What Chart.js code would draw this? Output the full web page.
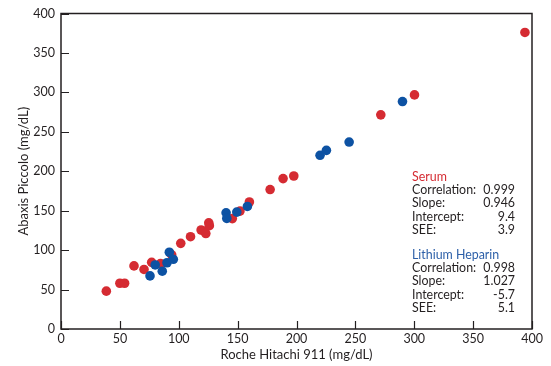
<!DOCTYPE html>
<html lang="en">
<head>
  <meta charset="UTF-8">
  <title>Abaxis Piccolo vs Roche Hitachi 911</title>
  <script src="https://cdn.jsdelivr.net/npm/chart.js"></script>
  <style>
    html, body { margin: 0; padding: 0; background: #fff; }
    #wrap { width: 551px; height: 366px; }
  </style>
</head>
<body>
  <div id="wrap"><canvas id="scatterChart"></canvas></div>

  <script>
  // Serum points (Roche Hitachi 911 x, Abaxis Piccolo y)
  const serumX = [38.5, 50, 54, 62, 70.5, 77, 84.5, 94, 101.7, 110, 119, 121.5, 123, 125.5, 126,
                  145.5, 152, 160, 177.6, 188.6, 197.7, 271.6, 300.2, 394];
  const serumY = [48, 58, 58, 80, 75.5, 84.5, 83, 94, 108.6, 117, 125.5, 124, 121, 134.5, 131,
                  140, 149.5, 161, 176.8, 190.7, 194, 271.5, 296.8, 376];

  // Lithium heparin points
  const heparinX = [75.6, 80, 86, 90, 92, 95.4, 140.2, 140.8, 149.3, 158.3, 220, 225.4, 244.7, 290];
  const heparinY = [67.3, 81.2, 73.3, 84, 97.3, 88.4, 147.3, 140.2, 148.2, 155.4, 220.2, 226.5, 237, 288.4];

  const axisTicks = [0, 50, 100, 150, 200, 250, 300, 350, 400];

  const statLabels = ["Correlation:", "Slope:", "Intercept:", "SEE:"];
  const serumStats = ["0.999", "0.946", "9.4", "3.9"];
  const heparinStats = ["0.998", "1.027", "-5.7", "5.1"];

  const RED = "#d52b32";
  const BLUE = "#0d52a3";
  const INK = "#231f20";
  const FONT = "Lato, sans-serif";

  const toPoints = (xs, ys) => xs.map((x, i) => ({ x: x, y: ys[i] }));

  // box around the plot + inward tick marks
  const framePlugin = {
    id: 'frame',
    afterDatasetsDraw(chart) {
      const { ctx, chartArea: a, scales } = chart;
      ctx.save();
      ctx.strokeStyle = INK;
      ctx.lineWidth = 1.5;
      ctx.strokeRect(a.left, a.top, a.right - a.left, a.bottom - a.top);
      ctx.lineWidth = 1.2;
      ctx.beginPath();
      axisTicks.forEach(v => {
        const px = Math.round(scales.x.getPixelForValue(v)) + 0.5;
        ctx.moveTo(px, a.bottom);
        ctx.lineTo(px, a.bottom - 8);
        const py = Math.round(scales.y.getPixelForValue(v)) + 0.5;
        ctx.moveTo(a.left, py);
        ctx.lineTo(a.left + 8, py);
      });
      ctx.stroke();
      ctx.restore();
    }
  };

  // regression statistics block
  const statsPlugin = {
    id: 'stats',
    afterDraw(chart) {
      const { ctx, chartArea: a } = chart;
      const left = a.right - 120;
      const right = a.right - 17;
      const lh = 13.4;
      const drawBlock = (title, color, values, top) => {
        ctx.fillStyle = color;
        ctx.textAlign = 'left';
        ctx.fillText(title, left, top);
        ctx.fillStyle = INK;
        statLabels.forEach((lab, i) => {
          const y = top + lh * (i + 1);
          ctx.textAlign = 'left';
          ctx.fillText(lab, left, y);
          ctx.textAlign = 'right';
          ctx.fillText(values[i], right, y);
        });
      };
      ctx.save();
      ctx.font = "12.4px " + FONT;
      ctx.textBaseline = 'middle';
      drawBlock("Serum", RED, serumStats, a.top + 163);
      drawBlock("Lithium Heparin", "#2c5fa8", heparinStats, a.top + 241);
      ctx.restore();
    }
  };

  new Chart(document.getElementById('scatterChart'), {
    type: 'scatter',
    data: {
      datasets: [
        {
          label: 'Lithium Heparin',
          data: toPoints(heparinX, heparinY),
          backgroundColor: BLUE,
          borderWidth: 0,
          pointRadius: 4.8,
          order: 0
        },
        {
          label: 'Serum',
          data: toPoints(serumX, serumY),
          backgroundColor: RED,
          borderWidth: 0,
          pointRadius: 4.8,
          order: 1
        }
      ]
    },
    options: {
      responsive: true,
      maintainAspectRatio: false,
      animation: false,
      layout: { padding: { top: 9, right: 19, left: 16, bottom: 3 } },
      plugins: {
        legend: { display: false },
        tooltip: { enabled: false }
      },
      scales: {
        x: {
          type: 'linear',
          min: 0,
          max: 400,
          afterBuildTicks: s => { s.ticks = axisTicks.map(v => ({ value: v })); },
          afterFit: s => { s.height = 34; },
          grid: { display: false, drawTicks: false },
          border: { display: false },
          ticks: { color: INK, font: { family: FONT, size: 12.5 }, padding: 2, maxRotation: 0 },
          title: {
            display: true,
            text: 'Roche Hitachi 911 (mg/dL)',
            color: INK,
            font: { family: FONT, size: 13 },
            padding: { top: 0, bottom: 0 }
          }
        },
        y: {
          type: 'linear',
          min: 0,
          max: 400,
          afterBuildTicks: s => { s.ticks = axisTicks.map(v => ({ value: v })); },
          afterFit: s => { s.width = 45; },
          grid: { display: false, drawTicks: false },
          border: { display: false },
          ticks: { color: INK, font: { family: FONT, size: 12.5 }, padding: 6 },
          title: {
            display: true,
            text: 'Abaxis Piccolo (mg/dL)',
            color: INK,
            font: { family: FONT, size: 13 },
            padding: { top: 0, bottom: 0 }
          }
        }
      }
    },
    plugins: [framePlugin, statsPlugin]
  });
  </script>
</body>
</html>
